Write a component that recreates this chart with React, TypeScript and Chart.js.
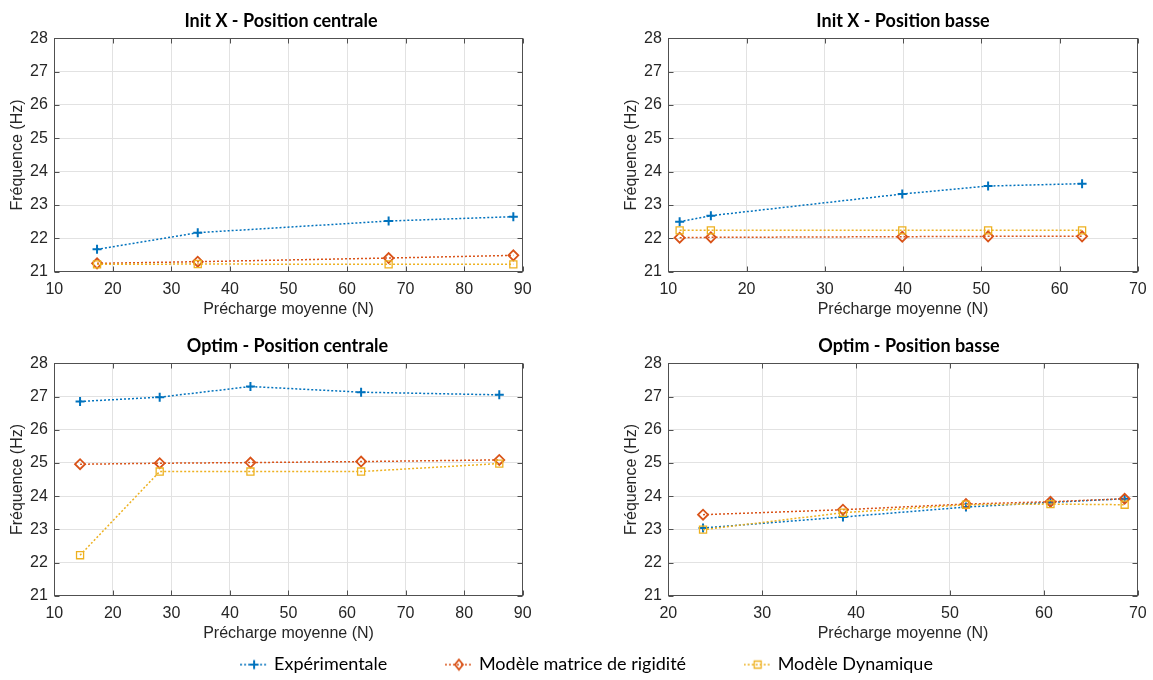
import React, { useEffect, useRef } from "react";
import { Chart, registerables } from "chart.js";

Chart.register(...registerables);

// ---------- Data ----------
const seriesLabels = ["Expérimentale", "Modèle matrice de rigidité", "Modèle Dynamique"];
const xAxisLabel = "Précharge moyenne (N)";
const yAxisLabel = "Fréquence (Hz)";
const yMin = 21;
const yMax = 28;

const initCentraleTitle = "Init X - Position centrale";
const initCentraleX = [17.3, 34.5, 67.1, 88.4];
const initCentraleExp = [21.67, 22.17, 22.52, 22.65];
const initCentraleMat = [21.25, 21.3, 21.41, 21.49];
const initCentraleDyn = [21.22, 21.23, 21.22, 21.22];
const initCentraleRange = [10, 90];

const initBasseTitle = "Init X - Position basse";
const initBasseX = [11.45, 15.44, 39.9, 50.87, 62.88];
const initBasseExp = [22.5, 22.68, 23.33, 23.57, 23.64];
const initBasseMat = [22.02, 22.03, 22.05, 22.06, 22.06];
const initBasseDyn = [22.24, 22.24, 22.24, 22.24, 22.24];
const initBasseRange = [10, 70];

const optimCentraleTitle = "Optim - Position centrale";
const optimCentraleX = [14.4, 28.0, 43.5, 62.4, 86.0];
const optimCentraleExp = [26.85, 26.98, 27.3, 27.13, 27.05];
const optimCentraleMat = [24.96, 24.99, 25.01, 25.04, 25.09];
const optimCentraleDyn = [22.22, 24.74, 24.74, 24.74, 24.98];
const optimCentraleRange = [10, 90];

const optimBasseTitle = "Optim - Position basse";
const optimBasseX = [23.7, 38.6, 51.7, 60.7, 68.6];
const optimBasseExp = [23.04, 23.37, 23.67, 23.81, 23.92];
const optimBasseMat = [23.44, 23.59, 23.76, 23.83, 23.92];
const optimBasseDyn = [22.99, 23.5, 23.74, 23.76, 23.74];
const optimBasseRange = [20, 70];

// ---------- Styles ----------
const BLUE = "#0072BD";
const ORANGE = "#D95319";
const YELLOW = "#EDB120";
const seriesColors = [BLUE, ORANGE, YELLOW];
const GRID = "#e2e2e2";
const AXIS = "#262626";
const FRAME = "#505050";
const TICK_FONT = { family: "'Liberation Sans', Arial, sans-serif", size: 16 };
const TITLE_FONT = { family: "Lato, 'Open Sans', sans-serif", size: 18, weight: "bold" as const };
const LEGEND_FONT = { family: "Lato, 'Open Sans', sans-serif", size: 18 };

type PanelCfg = {
  title: string;
  xs: number[];
  exp: number[];
  mat: number[];
  dyn: number[];
  range: number[];
  left: number;
  top: number;
  w: number;
  h: number;
  rightMargin: number;
};

const panels: PanelCfg[] = [
  { title: initCentraleTitle, xs: initCentraleX, exp: initCentraleExp, mat: initCentraleMat, dyn: initCentraleDyn, range: initCentraleRange, left: 0, top: 0, w: 562, h: 320, rightMargin: 39.3 },
  { title: initBasseTitle, xs: initBasseX, exp: initBasseExp, mat: initBasseMat, dyn: initBasseDyn, range: initBasseRange, left: 614, top: 0, w: 578, h: 320, rightMargin: 54.2 },
  { title: optimCentraleTitle, xs: optimCentraleX, exp: optimCentraleExp, mat: optimCentraleMat, dyn: optimCentraleDyn, range: optimCentraleRange, left: 0, top: 325, w: 575, h: 319, rightMargin: 52.3 },
  { title: optimBasseTitle, xs: optimBasseX, exp: optimBasseExp, mat: optimBasseMat, dyn: optimBasseDyn, range: optimBasseRange, left: 614, top: 325, w: 590, h: 319, rightMargin: 66.2 },
];

// Frame (box) and inward tick marks, MATLAB style
const framePlugin = {
  id: "matlabFrame",
  beforeDatasetsDraw(chart: any) {
    const { ctx, chartArea, scales } = chart;
    const left = Math.round(chartArea.left) + 0.5;
    const right = Math.round(chartArea.right) - 0.5;
    const top = Math.round(chartArea.top) + 0.5;
    const bottom = Math.round(chartArea.bottom) - 0.5;
    const tl = 5;
    ctx.save();
    ctx.strokeStyle = FRAME;
    ctx.lineWidth = 1;
    ctx.beginPath();
    scales.x.ticks.forEach((t: any) => {
      const p = Math.round(scales.x.getPixelForValue(t.value)) + 0.5;
      ctx.moveTo(p, bottom);
      ctx.lineTo(p, bottom - tl);
      ctx.moveTo(p, top);
      ctx.lineTo(p, top + tl);
    });
    scales.y.ticks.forEach((t: any) => {
      const p = Math.round(scales.y.getPixelForValue(t.value)) + 0.5;
      ctx.moveTo(left, p);
      ctx.lineTo(left + tl, p);
      ctx.moveTo(right, p);
      ctx.lineTo(right - tl, p);
    });
    ctx.stroke();
    ctx.strokeRect(left, top, right - left, bottom - top);
    ctx.restore();
  },
};

function makeDatasets(p: PanelCfg) {
  const pts = (ys: number[]) => p.xs.map((x, i) => ({ x, y: ys[i] }));
  const common = {
    borderWidth: 1.5,
    borderDash: [2, 2],
    pointBackgroundColor: "rgba(0,0,0,0)",
    tension: 0,
    fill: false,
  };
  return [
    { ...common, label: seriesLabels[0], data: pts(p.exp), borderColor: BLUE, pointBorderColor: BLUE, pointStyle: "cross", pointRadius: 4.5, pointBorderWidth: 2, order: 3 },
    { ...common, label: seriesLabels[1], data: pts(p.mat), borderColor: ORANGE, pointBorderColor: ORANGE, pointStyle: "rectRot", pointRadius: 5, pointBorderWidth: 1.8, order: 2 },
    { ...common, label: seriesLabels[2], data: pts(p.dyn), borderColor: YELLOW, pointBorderColor: YELLOW, pointStyle: "rect", pointRadius: 5, pointBorderWidth: 1.3, order: 1 },
  ];
}

function Panel({ cfg }: { cfg: PanelCfg }) {
  const ref = useRef<HTMLCanvasElement>(null);
  useEffect(() => {
    const chart = new Chart(ref.current as HTMLCanvasElement, {
      type: "line",
      data: { datasets: makeDatasets(cfg) as any },
      options: {
        animation: false,
        responsive: false,
        events: [],
        layout: { padding: 0 },
        plugins: {
          legend: { display: false },
          tooltip: { enabled: false },
          title: {
            display: true,
            text: cfg.title,
            color: "#000",
            font: TITLE_FONT,
            padding: { top: 10.2, bottom: 6.5 },
          },
        },
        scales: {
          x: {
            type: "linear",
            min: cfg.range[0],
            max: cfg.range[1],
            ticks: { stepSize: 10, color: AXIS, font: TICK_FONT, padding: 8, maxRotation: 0, autoSkip: false },
            grid: { color: GRID, drawTicks: false, lineWidth: 1 },
            border: { display: false },
            title: { display: true, text: xAxisLabel, color: AXIS, font: TICK_FONT, padding: { top: 0, bottom: 1.1 } },
            afterFit: (s: any) => { s.height = 48.3; },
          },
          y: {
            type: "linear",
            min: yMin,
            max: yMax,
            ticks: { stepSize: 1, color: AXIS, font: TICK_FONT, padding: 6.5 },
            grid: { color: GRID, drawTicks: false, lineWidth: 1 },
            border: { display: false },
            title: { display: true, text: yAxisLabel, color: AXIS, font: TICK_FONT, padding: { top: 7.7, bottom: 0 } },
            afterFit: (s: any) => { s.width = 54.3; },
          },
          y2: {
            type: "linear",
            position: "right",
            display: true,
            ticks: { display: false },
            grid: { display: false, drawTicks: false },
            border: { display: false },
            afterFit: (s: any) => { s.width = cfg.rightMargin; },
          },
        },
      } as any,
      plugins: [framePlugin],
    });
    return () => chart.destroy();
  }, []);
  return (
    <canvas
      ref={ref}
      width={cfg.w}
      height={cfg.h}
      style={{ position: "absolute", left: cfg.left, top: cfg.top, width: cfg.w, height: cfg.h }}
    />
  );
}

function legendIcon(color: string, kind: number) {
  const c = document.createElement("canvas");
  c.width = 28;
  c.height = 14;
  const ctx = c.getContext("2d") as CanvasRenderingContext2D;
  ctx.strokeStyle = color;
  ctx.lineWidth = 1.5;
  ctx.setLineDash([2, 2]);
  ctx.beginPath();
  ctx.moveTo(0, 7);
  ctx.lineTo(28, 7);
  ctx.stroke();
  ctx.setLineDash([]);
  ctx.beginPath();
  if (kind === 0) {
    ctx.lineWidth = 2;
    ctx.moveTo(14, 2.5);
    ctx.lineTo(14, 11.5);
    ctx.moveTo(9.5, 7);
    ctx.lineTo(18.5, 7);
  } else if (kind === 1) {
    ctx.lineWidth = 1.8;
    ctx.moveTo(14, 2);
    ctx.lineTo(18, 7);
    ctx.lineTo(14, 12);
    ctx.lineTo(10, 7);
    ctx.closePath();
  } else {
    ctx.lineWidth = 1.3;
    ctx.rect(10.5, 3.5, 7, 7);
  }
  ctx.stroke();
  return c;
}

const LEGEND_PAD = 60.6;

function Legend() {
  const ref = useRef<HTMLCanvasElement>(null);
  useEffect(() => {
    const icons = seriesColors.map((c, i) => legendIcon(c, i));
    const chart = new Chart(ref.current as HTMLCanvasElement, {
      type: "line",
      data: { datasets: seriesLabels.map((label, i) => ({ label, data: [], borderColor: seriesColors[i] })) },
      options: {
        animation: false,
        responsive: false,
        events: [],
        layout: { padding: 0 },
        scales: { x: { display: false }, y: { display: false } },
        plugins: {
          tooltip: { enabled: false },
          legend: {
            display: true,
            position: "top",
            labels: {
              color: "#000",
              font: LEGEND_FONT,
              padding: LEGEND_PAD,
              usePointStyle: true,
              pointStyleWidth: 22,
              boxHeight: 14,
              generateLabels: () =>
                seriesLabels.map((text, i) => ({
                  text,
                  pointStyle: icons[i],
                  fillStyle: seriesColors[i],
                  strokeStyle: seriesColors[i],
                  lineWidth: 0,
                  hidden: false,
                  datasetIndex: i,
                  fontColor: "#000",
                })),
            },
          },
        },
      } as any,
    });
    return () => chart.destroy();
  }, []);
  return (
    <canvas
      ref={ref}
      width={964}
      height={320}
      style={{ position: "absolute", left: 106, top: 595, width: 964, height: 320 }}
    />
  );
}

export default function App() {
  return (
    <div
      style={{
        position: "absolute",
        left: 0,
        top: 0,
        width: 1153,
        height: 680,
        overflow: "hidden",
        background: "#fff",
      }}
    >
      {panels.map((p, i) => (
        <Panel key={i} cfg={p} />
      ))}
      <Legend />
    </div>
  );
}
